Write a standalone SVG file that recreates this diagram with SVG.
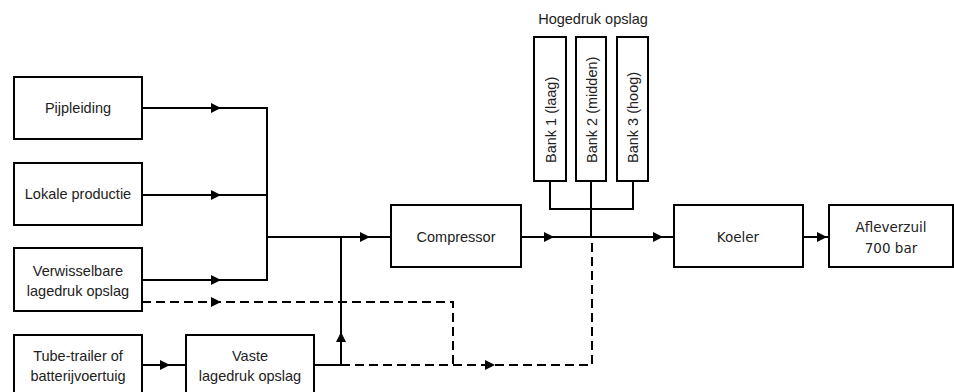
<svg xmlns="http://www.w3.org/2000/svg" xmlns:xlink="http://www.w3.org/1999/xlink" width="954" height="392" viewBox="0 0 954 392">
<style>
.box{fill:#fff;stroke:#000;stroke-width:2}
.t{font-family:"Liberation Sans",Arial,sans-serif;font-size:14.5px;fill:#222;text-anchor:middle;dominant-baseline:central}
.v{font-family:"DejaVu Sans",Verdana,sans-serif;font-size:13.5px;fill:#222;text-anchor:middle;dominant-baseline:central}
.ln{fill:none;stroke:#000;stroke-width:2}
.dash{fill:none;stroke:#000;stroke-width:2;stroke-dasharray:9 5}
</style>
<defs>
<path id="ah" d="M0,0 L-10,-5 L-10,5 Z" fill="#000"/>
</defs>
<rect width="954" height="392" fill="#fff"/>
<g id="connectors">
<path class="ln" d="M142,108 H267 M142,195 H267 M142,280 H267 M267,107 V281 M267,237 H391"/>
<path class="ln" d="M142,365 H186 M314,365 H341 V237"/>
<path class="dash" d="M142,302 H453 V365"/>
<path class="dash" d="M341,365 H592 V239"/>
<path class="ln" d="M521,237 H674 M550,181 V209 H633 V181 M591,181 V237 M803,237 H829"/>
<use xlink:href="#ah" transform="translate(221,108)"/>
<use xlink:href="#ah" transform="translate(221,195)"/>
<use xlink:href="#ah" transform="translate(221,280)"/>
<use xlink:href="#ah" transform="translate(221,302)"/>
<use xlink:href="#ah" transform="translate(170,365)"/>
<use xlink:href="#ah" transform="translate(370,237)"/>
<use xlink:href="#ah" transform="translate(341,332) rotate(-90)"/>
<use xlink:href="#ah" transform="translate(495,365)"/>
<use xlink:href="#ah" transform="translate(554,237)"/>
<use xlink:href="#ah" transform="translate(663,237)"/>
<use xlink:href="#ah" transform="translate(827,237)"/>
</g>
<g id="pijpleiding"><rect class="box" x="14" y="77" width="128" height="62"/><text class="t" x="78" y="108">Pijpleiding</text></g>
<g id="lokale-productie"><rect class="box" x="14" y="163" width="128" height="62"/><text class="t" x="78" y="194">Lokale productie</text></g>
<g id="verwisselbare"><rect class="box" x="14" y="248" width="128" height="63"/><text class="t" x="78" y="271">Verwisselbare</text><text class="t" x="78" y="291">lagedruk opslag</text></g>
<g id="tube-trailer"><rect class="box" x="14" y="335" width="128" height="62"/><text class="t" x="78" y="356">Tube-trailer of</text><text class="t" x="78" y="376">batterijvoertuig</text></g>
<g id="vaste"><rect class="box" x="186" y="335" width="128" height="62"/><text class="t" x="250" y="356">Vaste</text><text class="t" x="250" y="376">lagedruk opslag</text></g>
<g id="compressor"><rect class="box" x="391" y="205" width="130" height="62"/><text class="t" x="456" y="237">Compressor</text></g>
<g id="hogedruk"><text class="t" x="593" y="19">Hogedruk opslag</text></g>
<g id="bank1"><rect class="box" x="534" y="37" width="32" height="144"/><text class="t" style="text-anchor:start" transform="translate(551,163) rotate(-90)">Bank 1 (laag)</text></g>
<g id="bank2"><rect class="box" x="576" y="37" width="30" height="144"/><text class="t" style="text-anchor:start" transform="translate(592,163) rotate(-90)">Bank 2 (midden)</text></g>
<g id="bank3"><rect class="box" x="617" y="37" width="31" height="144"/><text class="t" style="text-anchor:start" transform="translate(633,163) rotate(-90)">Bank 3 (hoog)</text></g>
<g id="koeler"><rect class="box" x="674" y="205" width="129" height="62"/><text class="v" x="738" y="237">Koeler</text></g>
<g id="afleverzuil"><rect class="box" x="829" y="205" width="124" height="62"/><text class="v" x="891" y="227">Afleverzuil</text><text class="v" x="891" y="248">700 bar</text></g>
</svg>
